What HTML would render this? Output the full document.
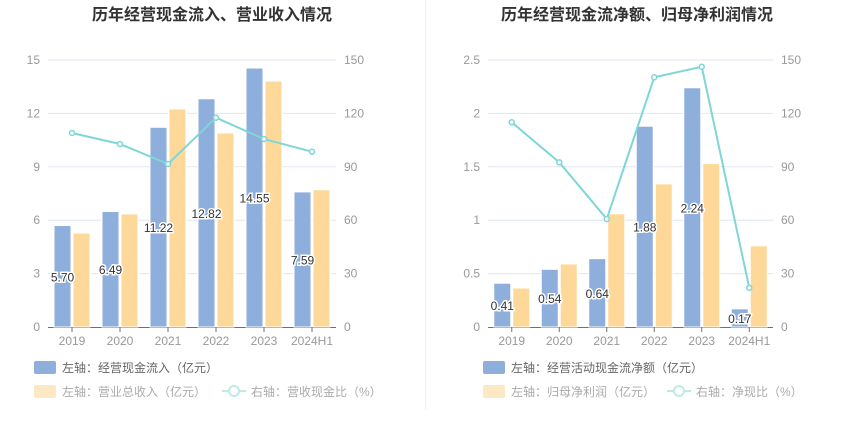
<!DOCTYPE html>
<html><head><meta charset="utf-8"><style>
body{margin:0;background:#fff;width:850px;height:437px;overflow:hidden;font-family:"Liberation Sans","Noto Sans CJK SC",sans-serif}
</style></head><body>
<svg id="svg" width="850" height="437" xmlns="http://www.w3.org/2000/svg" font-family="Liberation Sans, Noto Sans CJK SC, sans-serif">
<line x1="425.5" y1="0" x2="425.5" y2="410" stroke="#eef0f4"/>
</svg>
<script>
const categories=["2019","2020","2021","2022","2023","2024H1"];
const leftBlue=[5.70,6.49,11.22,12.82,14.55,7.59];
const leftYellow=[5.28,6.35,12.25,10.9,13.82,7.71];
const leftLine=[109,102.8,91.6,117.6,105.6,98.5];
const rightBlue=[0.41,0.54,0.64,1.88,2.24,0.17];
const rightYellow=[0.365,0.59,1.06,1.34,1.53,0.76];
const rightLine=[115,92.5,60.7,140.3,146.2,22];
const leftTicks=["0","3","6","9","12","15"];
const rightTicksL=["0","0.5","1","1.5","2","2.5"];
const pctTicks=["0","30","60","90","120","150"];
const titles=["历年经营现金流入、营业收入情况","历年经营现金流净额、归母净利润情况"];
const legL=["左轴：经营现金流入（亿元）","左轴：营业总收入（亿元）","右轴：营收现金比（%）"];
const legR=["左轴：经营活动现金流净额（亿元）","左轴：归母净利润（亿元）","右轴：净现比（%）"];
const NS="http://www.w3.org/2000/svg",svg=document.getElementById('svg');
function mk(t,a,txt){const e=document.createElementNS(NS,t);for(const k in a)e.setAttribute(k,a[k]);if(txt!=null)e.textContent=txt;svg.appendChild(e);return e;}
function chart(o){
  const y0=327,top=60,H=y0-top,band=(o.x1-o.x0)/6;
  const yL=v=>y0-v/o.max*H, yR=v=>y0-v/150*H;
  let t=mk('text',{x:o.cx,y:20,'text-anchor':'middle','font-size':16,'font-weight':'bold',fill:'#333'},o.title);
  
  for(let i=0;i<6;i++){
    const y=y0-i*H/5;
    if(i>0){let g=mk('line',{x1:o.x0,x2:o.x1,y1:y,y2:y,stroke:'#e0e6f1'});}
    let a=mk('text',{x:o.x0-8,y:y+4,'text-anchor':'end','font-size':12,fill:'#999'},o.lt[i]);
    
    let b=mk('text',{x:o.x1+8,y:y+4,'font-size':12,fill:'#999'},pctTicks[i]);
    
  }
  let ax=mk('line',{x1:o.x0,x2:o.x1,y1:y0+.5,y2:y0+.5,stroke:'#6e7079'});
  
  const pts=[];
  categories.forEach((c,i)=>{
    const cx=o.x0+band*(i+.5);
    let tk=mk('line',{x1:cx,x2:cx,y1:y0,y2:y0+5,stroke:'#6e7079'});
    
    let xl=mk('text',{x:cx,y:y0+18,'text-anchor':'middle','font-size':12,fill:'#999'},c);
    
    const bx=cx-18;
    let b1=mk('rect',{x:bx,y:yL(o.blue[i]),width:17,height:y0-yL(o.blue[i]),fill:'#8eaedb',stroke:'#fff','stroke-width':1});
    
    let b2=mk('rect',{x:cx+1,y:yL(o.yellow[i]),width:17,height:y0-yL(o.yellow[i]),fill:'#fed899',stroke:'#fff','stroke-width':1});
    
    pts.push([cx,yR(o.line[i])]);
  });
  categories.forEach((c,i)=>{
    const cx=o.x0+band*(i+.5)-9.5,ly=(yL(o.blue[i])+y0)/2+5;
    let l=mk('text',{x:cx,y:ly,'text-anchor':'middle','font-size':12,fill:'#333',stroke:'#fff','stroke-width':3,'paint-order':'stroke'},o.blue[i].toFixed(2));
    
  });
  let pl=mk('polyline',{points:pts.map(p=>p.join(',')).join(' '),fill:'none',stroke:'#7fd6d6','stroke-width':2});
  
  pts.forEach(p=>{let c=mk('circle',{cx:p[0],cy:p[1],r:2.5,fill:'#fff',stroke:'#7fd6d6','stroke-width':1.5});});
  const lx=o.lx;
  let s1=mk('rect',{x:lx,y:361,width:22,height:13,rx:2,fill:'#8eaedb'});
  let t1=mk('text',{x:lx+28,y:372,'font-size':12,fill:'#666'},o.leg[0]);
  let s2=mk('rect',{x:lx,y:385,width:22,height:13,rx:2,fill:'#fde8c4'});
  let t2=mk('text',{x:lx+28,y:396,'font-size':12,fill:'#aaa'},o.leg[1]);
  let s3=mk('line',{x1:o.l3,x2:o.l3+24,y1:391,y2:391,stroke:'#bfe9e9','stroke-width':2});
  let s4=mk('circle',{cx:o.l3+12,cy:391,r:5,fill:'#fff',stroke:'#bfe9e9','stroke-width':2});
  let t3=mk('text',{x:o.l3+29,y:396,'font-size':12,fill:'#aaa'},o.leg[2]);
}
chart({key:'left',x0:48,x1:336,max:15,lt:leftTicks,blue:leftBlue,yellow:leftYellow,line:leftLine,title:titles[0],cx:212,leg:legL,lx:34,l3:222});
chart({key:'right',x0:488,x1:773,max:2.5,lt:rightTicksL,blue:rightBlue,yellow:rightYellow,line:rightLine,title:titles[1],cx:637,leg:legR,lx:483,l3:667});
</script>
</body></html>
